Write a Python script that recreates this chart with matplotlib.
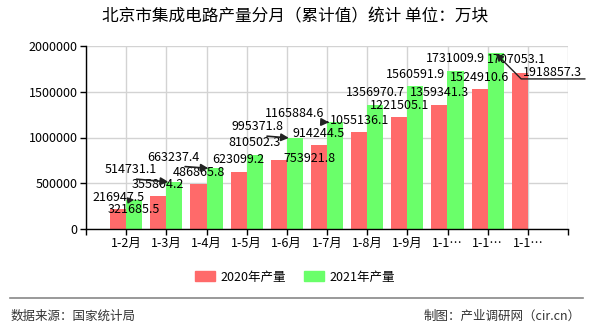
import numpy as np
import matplotlib
matplotlib.use('Agg')
import matplotlib.pyplot as plt
from matplotlib.patches import Patch

plt.rcParams['font.family'] = ['Noto Sans CJK SC', 'DejaVu Sans']

# data
months = ['1-2月', '1-3月', '1-4月', '1-5月', '1-6月', '1-7月', '1-8月', '1-9月',
          '1-1…', '1-1…', '1-1…']
prod_2020 = [216947.5, 355804.2, 486865.8, 623099.2, 753921.8, 914244.5,
             1055136.1, 1221505.1, 1359341.3, 1524910.6, 1707053.1]
prod_2021 = [321685.5, 514731.1, 663237.4, 810502.3, 995371.8, 1165884.6,
             1356970.7, 1560591.9, 1731009.9, 1918857.3, None]

red = '#ff6a6a'
green = '#6aff6a'
w = 0.4

# label tweaks (pixel offsets from bar top), for labels that got pushed aside
# key: (series, index) -> (dx, dy, leader)
moved = {
    (1, 0): (0, -10, 'up'),
    (1, 1): (-38, 12, 'left'),
    (1, 2): (-35, 11, 'left'),
    (1, 4): (-31, 11, 'left'),
    (0, 4): (31, 2, None),
    (1, 5): (-34, 9, 'left'),
    (1, 9): (57, -19, 'right'),
    (0, 10): (-3, 13, None),
}

fig = plt.figure(figsize=(5.9, 3.3), dpi=100)
ax = fig.add_axes([86 / 590, 1 - 229 / 330, (568 - 86) / 590, (229 - 46) / 330])

x = np.arange(len(months))
ax.bar(x - w / 2, prod_2020, w, color=red, zorder=2)
v21 = np.array([np.nan if v is None else v for v in prod_2021])
ax.bar(x + w / 2, v21, w, color=green, zorder=2)

for s, (vals, off) in enumerate([(prod_2020, -w / 2), (prod_2021, w / 2)]):
    for i, v in enumerate(vals):
        if v is None:
            continue
        dx, dy, lead = moved.get((s, i), (0, 12, None))
        lbl = f'{v:.1f}'
        if lead is None:
            ax.annotate(lbl, (i + off, v), xytext=(dx, dy), textcoords='offset pixels',
                        ha='center', va='center', fontsize=9, zorder=5)
        elif lead == 'left':
            ax.annotate(lbl, (i + off - 0.15, v), xytext=(dx, dy), textcoords='offset pixels',
                        ha='center', va='center', fontsize=9, zorder=5,
                        arrowprops=dict(arrowstyle='-|>,head_length=0.5,head_width=0.25',
                                        color='#222222', lw=1.2, relpos=(0, 0),
                                        shrinkA=0, shrinkB=0))
        elif lead == 'up':
            ax.annotate(lbl, (i + off, v), xytext=(dx, dy), textcoords='offset pixels',
                        ha='center', va='center', fontsize=9, zorder=5,
                        arrowprops=dict(arrowstyle='-|>,head_length=0.4,head_width=0.2',
                                        color='#222222', lw=1, relpos=(0, 1),
                                        shrinkA=0, shrinkB=0))
        else:
            ax.annotate(lbl, (i + off, v), xytext=(dx, dy), textcoords='offset pixels',
                        ha='center', va='center', fontsize=9, zorder=5,
                        arrowprops=dict(arrowstyle='-|>,head_length=0.5,head_width=0.25',
                                        color='#222222', lw=1, relpos=(1.05, 0),
                                        connectionstyle='angle,angleA=0,angleB=135,rad=0',
                                        shrinkA=0, shrinkB=0))

ax.set_xlim(-1, 11)
ax.set_ylim(0, 2000000)
ax.set_xticks(np.arange(-1, 12))
ax.set_xticklabels([''] + months + [''], fontsize=9)
ax.set_yticks(np.arange(0, 2000001, 500000))
ax.set_yticklabels([str(t) for t in range(0, 2000001, 500000)], fontsize=9)
ax.tick_params(length=4, width=1, color='black', pad=2)
ax.grid(True, color='#d3d3d3', lw=1, zorder=0)
ax.set_axisbelow(True)
for sp in ['top', 'right']:
    ax.spines[sp].set_visible(False)
for sp in ['left', 'bottom']:
    ax.spines[sp].set_color('black')
    ax.spines[sp].set_linewidth(1)

fig.text(0.5, 1 - 17 / 330, '北京市集成电路产量分月（累计值）统计 单位：万块',
         ha='center', va='center', fontsize=12)

handles = [Patch(color=red, label='2020年产量'), Patch(color=green, label='2021年产量')]
fig.legend(handles=handles, loc='center', bbox_to_anchor=(0.5, 1 - 277 / 330), ncol=2,
           frameon=False, fontsize=9, handlelength=1.6, handleheight=0.8,
           columnspacing=1.5, handletextpad=0.4)

fig.add_artist(plt.Line2D([10 / 590, 583 / 590], [1 - 298 / 330] * 2, color='#888888', lw=1.2))
fig.text(11 / 590, 1 - 316 / 330, '数据来源：国家统计局', ha='left', va='center',
         fontsize=9, color='#333333')
fig.text(581 / 590, 1 - 316 / 330, '制图：产业调研网（cir.cn）', ha='right', va='center',
         fontsize=9, color='#333333')

fig.savefig('out.png', dpi=100)
